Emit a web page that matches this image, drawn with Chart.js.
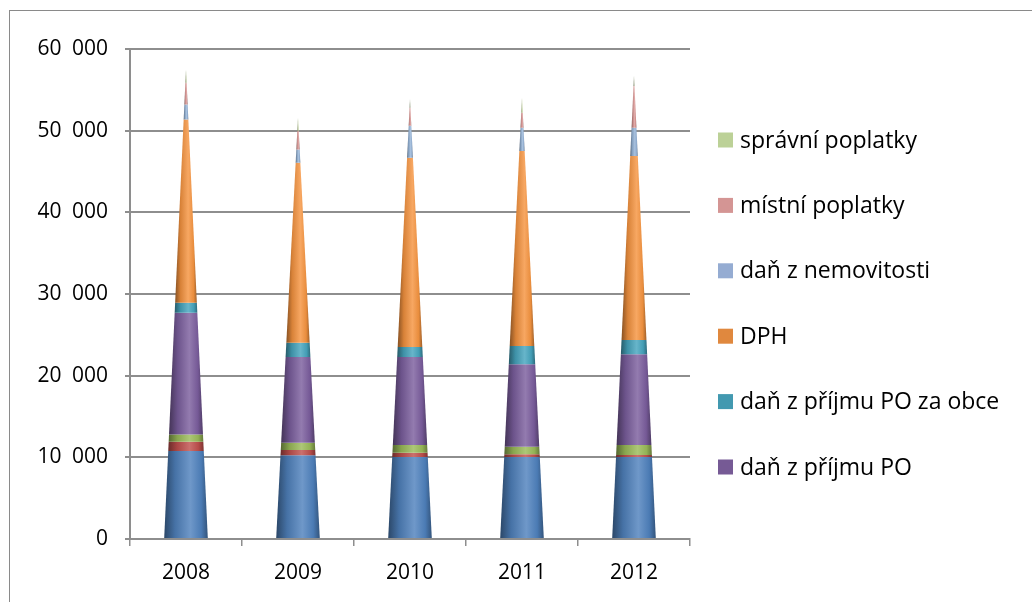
<!DOCTYPE html>
<html>
<head>
<meta charset="utf-8">
<script src="https://cdn.jsdelivr.net/npm/chart.js@4"></script>
<style>
  body { margin: 0; background: #fff; }
  #wrap { position: relative; width: 1032px; height: 602px; overflow: hidden; }
  #frame { position: absolute; left: 9px; top: 10px; width: 1100px; height: 700px;
           border-left: 1px solid #8a8a8a; border-top: 1px solid #8a8a8a; }
  canvas { position: absolute; left: 0; top: 0; }
</style>
</head>
<body>
<div id="wrap">
  <div id="frame"></div>
  <canvas id="cone-chart" width="1032" height="602"></canvas>
</div>
<script>
const years = ["2008", "2009", "2010", "2011", "2012"];

// bottom to top, as stacked
const seriesNames = [
    "daň z příjmu FO ze závislé činnosti",
    "daň z příjmu FO ze SVČ",
    "daň z příjmu FO z kapitálových výnosů",
    "daň z příjmu PO",
    "daň z příjmu PO za obce",
    "DPH",
    "daň z nemovitosti",
    "místní poplatky",
    "správní poplatky",
];

const foZavisla = [10780, 10250, 10040, 10040, 10040];
const foSvc = [1130, 650, 530, 330, 245];
const foKapital = [900, 890, 940, 930, 1225];
const danPO = [14900, 10500, 10775, 10090, 11100];
const danPOobce = [1220, 1750, 1225, 2240, 1755];
const dph = [22450, 22040, 23180, 23880, 22535];
const nemovitosti = [1830, 1600, 3900, 2850, 3460];
const mistni = [2650, 2280, 2220, 1840, 5110];
const spravni = [1640, 1630, 1030, 1840, 1220];

const seriesValues = [foZavisla, foSvc, foKapital, danPO, danPOobce, dph, nemovitosti, mistni, spravni];
const legendCount = 6; // only the top six fit in the legend

const seriesColors = ["#4f81bd", "#c0504d", "#9bbb59", "#7b5e9e", "#46a5be", "#f59440", "#95b3d7", "#d99694", "#c3d69b"];
const legendColors = ["#4f81bd", "#c0504d", "#9bbb59", "#765a95", "#4299b0", "#e0883e", "#95acd2", "#d49594", "#bcd197"];

const fontFamily = "'Open Sans', sans-serif";

function fmt(v) {
    return String(v).replace(/\B(?=(\d{3})+(?!\d))/g, "\u2002");
}

function shade(hex, f) {
    let n = parseInt(hex.slice(1), 16);
    let r = (n >> 16) & 255, g = (n >> 8) & 255, b = n & 255;
    if (f < 0) {
        r = r * (1 + f); g = g * (1 + f); b = b * (1 + f);
    } else {
        r = r + (255 - r) * f; g = g + (255 - g) * f; b = b + (255 - b) * f;
    }
    return "rgb(" + Math.round(r) + "," + Math.round(g) + "," + Math.round(b) + ")";
}

const conePlugin = {
    id: "cones",
    beforeDatasetsDraw(chart) {
        const ctx = chart.ctx;
        const yScale = chart.scales.y;
        const y0 = yScale.getPixelForValue(0);
        const n = chart.data.datasets.length;
        const topMeta = chart.getDatasetMeta(n - 1);
        ctx.save();
        for (let i = 0; i < years.length; i++) {
            const tipY = topMeta.data[i].y;
            for (let d = 0; d < n; d++) {
                const el = chart.getDatasetMeta(d).data[i];
                const cx = el.x;
                const hw = el.width / 2;
                const yb = el.base, yt = el.y;
                const wb = hw * (yb - tipY) / (y0 - tipY);
                const wt = hw * (yt - tipY) / (y0 - tipY);
                const c = seriesColors[d];
                const g = ctx.createLinearGradient(cx - wb, 0, cx + wb, 0);
                g.addColorStop(0, shade(c, -0.45));
                g.addColorStop(0.25, shade(c, -0.12));
                g.addColorStop(0.6, shade(c, 0.18));
                g.addColorStop(0.85, shade(c, -0.05));
                g.addColorStop(1, shade(c, -0.35));
                ctx.fillStyle = g;
                ctx.beginPath();
                ctx.moveTo(cx - wb, yb);
                ctx.lineTo(cx + wb, yb);
                ctx.lineTo(cx + wt, yt);
                ctx.lineTo(cx - wt, yt);
                ctx.closePath();
                ctx.fill();
            }
        }
        ctx.restore();
        return false;
    },
};

const legendPlugin = {
    id: "sideLegend",
    afterDraw(chart) {
        const ctx = chart.ctx;
        const n = chart.data.datasets.length;
        const x = chart.chartArea.right + 28;
        ctx.save();
        ctx.font = "23px " + fontFamily;
        ctx.textBaseline = "middle";
        for (let k = 0; k < legendCount; k++) {
            const d = n - 1 - k;
            const y = 140 + k * 65.4;
            ctx.fillStyle = legendColors[d];
            ctx.fillRect(x, y - 7.5, 15, 15);
            ctx.fillStyle = "#000";
            ctx.fillText(chart.data.datasets[d].label, x + 22, y + 1);
        }
        ctx.restore();
    },
};

const data = {
    labels: years,
    datasets: seriesNames.map((name, d) => ({
        label: name,
        data: seriesValues[d],
        backgroundColor: seriesColors[d],
        categoryPercentage: 1,
        barPercentage: 0.39,
    })),
};

const config = {
    type: "bar",
    data: data,
    options: {
        responsive: false,
        animation: false,
        layout: {
            padding: { left: 0, top: 49, right: 342, bottom: 0 },
        },
        scales: {
            x: {
                stacked: true,
                grid: {
                    offset: true,
                    drawOnChartArea: false,
                    drawTicks: true,
                    tickLength: 7,
                    color: "#8e8e8e",
                    lineWidth: 1.5,
                },
                border: { display: true, color: "#8e8e8e", width: 2 },
                ticks: {
                    color: "#000",
                    font: { family: fontFamily, size: 21 },
                    padding: 14,
                },
                afterFit(scale) {
                    scale.height = 63;
                },
            },
            y: {
                stacked: true,
                min: 0,
                max: 60000,
                grid: {
                    color: "#8e8e8e",
                    lineWidth: 2,
                    tickLength: 5,
                },
                border: { display: true, color: "#8e8e8e", width: 2 },
                ticks: {
                    stepSize: 10000,
                    color: "#000",
                    font: { family: fontFamily, size: 21 },
                    padding: 17,
                    callback: (v) => fmt(v),
                },
                afterFit(scale) {
                    scale.width = 130;
                },
            },
        },
        plugins: {
            legend: { display: false },
            tooltip: { enabled: false },
        },
    },
    plugins: [conePlugin, legendPlugin],
};

const coneChart = new Chart(document.getElementById("cone-chart"), config);
</script>
</body>
</html>
